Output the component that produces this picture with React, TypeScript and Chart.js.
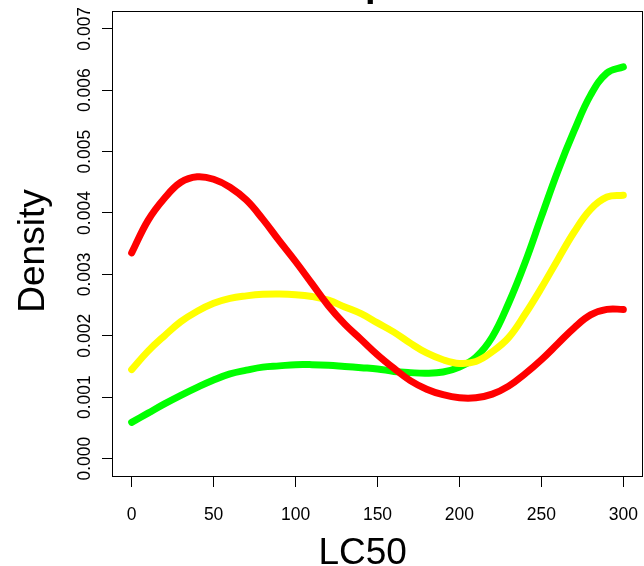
import React, { useEffect, useRef } from "react";
import { Chart, registerables } from "chart.js";

Chart.register(...registerables);

// LC50 grid (x values of the density estimates)
const lc50 = [
  0, 10, 20, 30, 40, 50, 60, 70, 80, 90, 100, 110, 120, 130, 140, 150,
  160, 170, 180, 190, 200, 210, 220, 230, 240, 250, 260, 270, 280, 290, 300,
];

// Density curves
const redDensity = [
  0.00335, 0.00388, 0.00424, 0.0045, 0.00459, 0.00455, 0.00442, 0.00421,
  0.0039, 0.00355, 0.00321, 0.00285, 0.00249, 0.00219, 0.00194, 0.00169,
  0.00147, 0.00127, 0.00113, 0.00104, 0.00099, 0.00099, 0.00105, 0.00118,
  0.00138, 0.00161, 0.00187, 0.00213, 0.00234, 0.00243, 0.00243,
];
const yellowDensity = [
  0.00145, 0.00175, 0.002, 0.00223, 0.0024, 0.00253, 0.00261, 0.00265,
  0.002675, 0.00268, 0.00267, 0.00264, 0.00258, 0.00247, 0.00236, 0.00221,
  0.00206, 0.00188, 0.00172, 0.00161, 0.00155, 0.00158, 0.00174, 0.00197,
  0.00235, 0.00278, 0.00324, 0.00369, 0.00406, 0.00426, 0.00429,
];
const greenDensity = [
  0.00059, 0.00074, 0.00089, 0.00103, 0.00116, 0.00128, 0.00138, 0.00144,
  0.00149, 0.00151, 0.00153, 0.00153, 0.00152, 0.0015, 0.00148, 0.00146,
  0.00142, 0.0014, 0.00139, 0.00141, 0.00149, 0.00165, 0.00198, 0.00253,
  0.00319, 0.00394, 0.00468, 0.00534, 0.00592, 0.00628, 0.00638,
];

const xTickValues = [0, 50, 100, 150, 200, 250, 300];
const yTickValues = [0, 0.001, 0.002, 0.003, 0.004, 0.005, 0.006, 0.007];

const xAxisTitle = "LC50";
const yAxisTitle = "Density";
const titleFragment = "p";

const FONT = '"Liberation Sans", Arial, Helvetica, sans-serif';

export default function App() {
  const canvasRef = useRef<HTMLCanvasElement | null>(null);

  useEffect(() => {
    const canvas = canvasRef.current;
    if (!canvas) return;

    const toPoints = (ys: number[]) => lc50.map((x, i) => ({ x, y: ys[i] }));

    const decorations = {
      id: "rDecorations",
      afterDraw(chart: any) {
        const { ctx, chartArea, scales } = chart;
        const xs = scales.x;
        const ys = scales.y;
        ctx.save();
        // box
        ctx.strokeStyle = "#000";
        ctx.lineWidth = 1;
        const l = Math.round(chartArea.left) + 0.5;
        const t = Math.round(chartArea.top) + 0.5;
        const r = Math.round(chartArea.right) - 0.5;
        const b = Math.round(chartArea.bottom) - 0.5;
        ctx.strokeRect(l, t, r - l, b - t);

        ctx.fillStyle = "#000";
        // x tick labels
        ctx.font = `17.5px ${FONT}`;
        ctx.textAlign = "center";
        ctx.textBaseline = "alphabetic";
        xTickValues.forEach((v) => {
          ctx.fillText(String(v), xs.getPixelForValue(v), 519.5);
        });
        // y tick labels, rotated
        yTickValues.forEach((v) => {
          const py = ys.getPixelForValue(v);
          ctx.save();
          ctx.translate(90, py);
          ctx.rotate(-Math.PI / 2);
          ctx.fillText(v.toFixed(3), 0, 0);
          ctx.restore();
        });
        // axis titles
        ctx.font = `37px ${FONT}`;
        ctx.fillText(xAxisTitle, 362.7, 564);
        ctx.save();
        ctx.translate(43.5, 251);
        ctx.rotate(-Math.PI / 2);
        ctx.fillText(yAxisTitle, 0, 0);
        ctx.restore();
        // cut-off main title
        ctx.font = `bold 38px ${FONT}`;
        ctx.textAlign = "left";
        ctx.fillText(titleFragment, 365, -4.2);
        ctx.restore();
      },
    };

    const lineStyle = {
      borderWidth: 7,
      pointRadius: 0,
      borderCapStyle: "round" as const,
      borderJoinStyle: "round" as const,
      tension: 0.4,
      fill: false,
    };

    const chart = new Chart(canvas, {
      type: "line",
      data: {
        datasets: [
          { ...lineStyle, label: "red", data: toPoints(redDensity), borderColor: "#FF0000", order: 0 },
          { ...lineStyle, label: "yellow", data: toPoints(yellowDensity), borderColor: "#FFFF00", order: 1 },
          { ...lineStyle, label: "green", data: toPoints(greenDensity), borderColor: "#00FF00", order: 2 },
        ],
      },
      options: {
        animation: false,
        responsive: false,
        devicePixelRatio: 1,
        layout: { padding: { top: 11, right: 1, left: 0, bottom: 0 } },
        plugins: {
          legend: { display: false },
          tooltip: { enabled: false },
          title: { display: false },
        },
        scales: {
          x: {
            type: "linear",
            min: -12,
            max: 312,
            afterBuildTicks: (scale: any) => {
              scale.ticks = xTickValues.map((value) => ({ value }));
            },
            afterFit: (scale: any) => {
              scale.height = 89;
            },
            ticks: { display: false },
            border: { display: false },
            grid: {
              drawOnChartArea: false,
              drawTicks: true,
              tickLength: 10,
              color: "#000",
              lineWidth: 1,
            },
          },
          y: {
            type: "linear",
            min: -0.0003,
            max: 0.00729,
            afterBuildTicks: (scale: any) => {
              scale.ticks = yTickValues.map((value) => ({ value }));
            },
            afterFit: (scale: any) => {
              scale.width = 112;
            },
            ticks: { display: false },
            border: { display: false },
            grid: {
              drawOnChartArea: false,
              drawTicks: true,
              tickLength: 10,
              color: "#000",
              lineWidth: 1,
            },
          },
        },
      },
      plugins: [decorations],
    });

    return () => {
      chart.destroy();
    };
  }, []);

  return (
    <div style={{ position: "absolute", left: 0, top: 0, width: 644, height: 566, background: "#fff" }}>
      <canvas ref={canvasRef} width={644} height={566} style={{ display: "block" }} />
    </div>
  );
}
